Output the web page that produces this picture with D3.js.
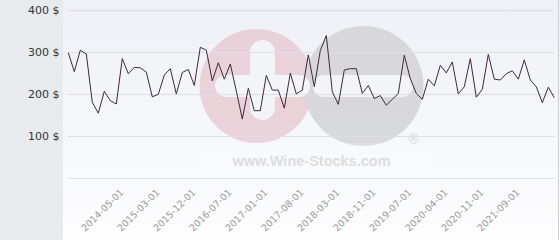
<!DOCTYPE html>
<html>
<head>
<meta charset="utf-8">
<script src="https://cdn.jsdelivr.net/npm/d3@7"></script>
<style>
html,body{margin:0;padding:0;background:#fff;}
svg{display:block;}
</style>
</head>
<body>
<svg id="c" width="560" height="240"></svg>
<script>
const values = [299,254,305,296,181,155,207,185,177,285,249,264,263,253,194,200,246,261,201,252,259,221,312,305,232,275,236,272,208,141,214,161,161,245,210,210,167,250,201,210,294,218,304,340,206,176,258,261,261,202,221,190,197,174,188,202,293,237,202,188,236,220,269,251,277,201,218,285,193,212,295,236,234,249,256,236,282,234,218,180,217,192];
const tickIndex = [9,15,21,27,33,39,45,51,57,63,69,75];
const tickLabels = ["2014-05-01","2015-03-01","2015-12-01","2016-07-01","2017-01-01","2017-08-01","2018-03-01","2018-11-01","2019-07-01","2020-04-01","2020-11-01","2021-09-01"];
const yTicks = [100,200,300,400];
const gridTicks = [0,100,200,300,400];

const svg = d3.select("#c");
const W = 560, H = 240;
const defs = svg.append("defs");
const grad = defs.append("linearGradient").attr("id","bg").attr("x1",0).attr("y1",0).attr("x2",0).attr("y2",1);
grad.append("stop").attr("offset","0%").attr("stop-color","#eef0f5");
grad.append("stop").attr("offset","100%").attr("stop-color","#fdfdfe");

// backgrounds
svg.append("rect").attr("x",0).attr("y",0).attr("width",W).attr("height",H).attr("fill","url(#bg)");
svg.append("rect").attr("x",0).attr("y",0).attr("width",63).attr("height",H).attr("fill","#e7ebee");
svg.append("line").attr("x1",558.5).attr("x2",558.5).attr("y1",0).attr("y2",H).attr("stroke","#cfcfd3");

const x = d3.scaleLinear().domain([0, values.length-1]).range([68.3, 554.3]);
const y = d3.scaleLinear().domain([0,400]).range([178.3, 10.3]);

// watermark
const wm = svg.append("g").attr("class","watermark");
wm.append("circle").attr("cx",256.5).attr("cy",86).attr("r",57).attr("fill","#e8cbd3").attr("opacity",0.85);
wm.append("circle").attr("cx",363.5).attr("cy",86).attr("r",60).attr("fill","#d5d5d7").attr("opacity",0.9);
// plus sign
wm.append("rect").attr("x",250).attr("y",40).attr("width",25).attr("height",80).attr("rx",12.5).attr("fill","#f3f4f8");
wm.append("rect").attr("x",215).attr("y",75).attr("width",95).attr("height",22).attr("rx",11).attr("fill","#f3f4f8");
// minus sign
wm.append("rect").attr("x",313).attr("y",75).attr("width",100).attr("height",22).attr("rx",11).attr("fill","#f3f4f8");
wm.append("rect").attr("x",200).attr("y",143).attr("width",230).attr("height",30).attr("fill","#ffffff").attr("opacity",0.2);
wm.append("text").attr("x",311.5).attr("y",166).attr("text-anchor","middle")
  .attr("font-family","Liberation Sans, Arial, sans-serif").attr("font-weight","bold").attr("font-size",14.5)
  .attr("fill","#dddde0").text("www.Wine-Stocks.com");
wm.append("text").attr("x",413.5).attr("y",144).attr("text-anchor","middle")
  .attr("font-family","Liberation Sans, Arial, sans-serif").attr("font-size",14)
  .attr("fill","#d3d3d6").text("®");

// grid
svg.append("g").selectAll("line").data(gridTicks).join("line")
  .attr("x1",68).attr("x2",554.5)
  .attr("y1",d=>Math.round(y(d))+0.5).attr("y2",d=>Math.round(y(d))+0.5)
  .attr("stroke","#dedfe3").attr("stroke-width",1);

// y labels
svg.append("g").selectAll("text").data(yTicks).join("text")
  .attr("x",59.5).attr("y",d=>y(d)).attr("dy","0.35em").attr("text-anchor","end")
  .attr("font-family","DejaVu Sans, sans-serif").attr("font-size",11).attr("fill","#333")
  .text(d=>d+" $");

// x labels
svg.append("g").selectAll("text").data(tickIndex).join("text")
  .attr("transform",(d)=>`translate(${x(d)+2},193) rotate(-45)`)
  .attr("text-anchor","end")
  .attr("font-family","DejaVu Sans, sans-serif").attr("font-size",9.5).attr("fill","#9a9a9a")
  .text((d,i)=>tickLabels[i]);

// line
svg.append("path").datum(values)
  .attr("fill","none").attr("stroke","#3b2a36").attr("stroke-width",1)
  .attr("d", d3.line().x((d,i)=>x(i)).y(d=>y(d)));
</script>
</body>
</html>
